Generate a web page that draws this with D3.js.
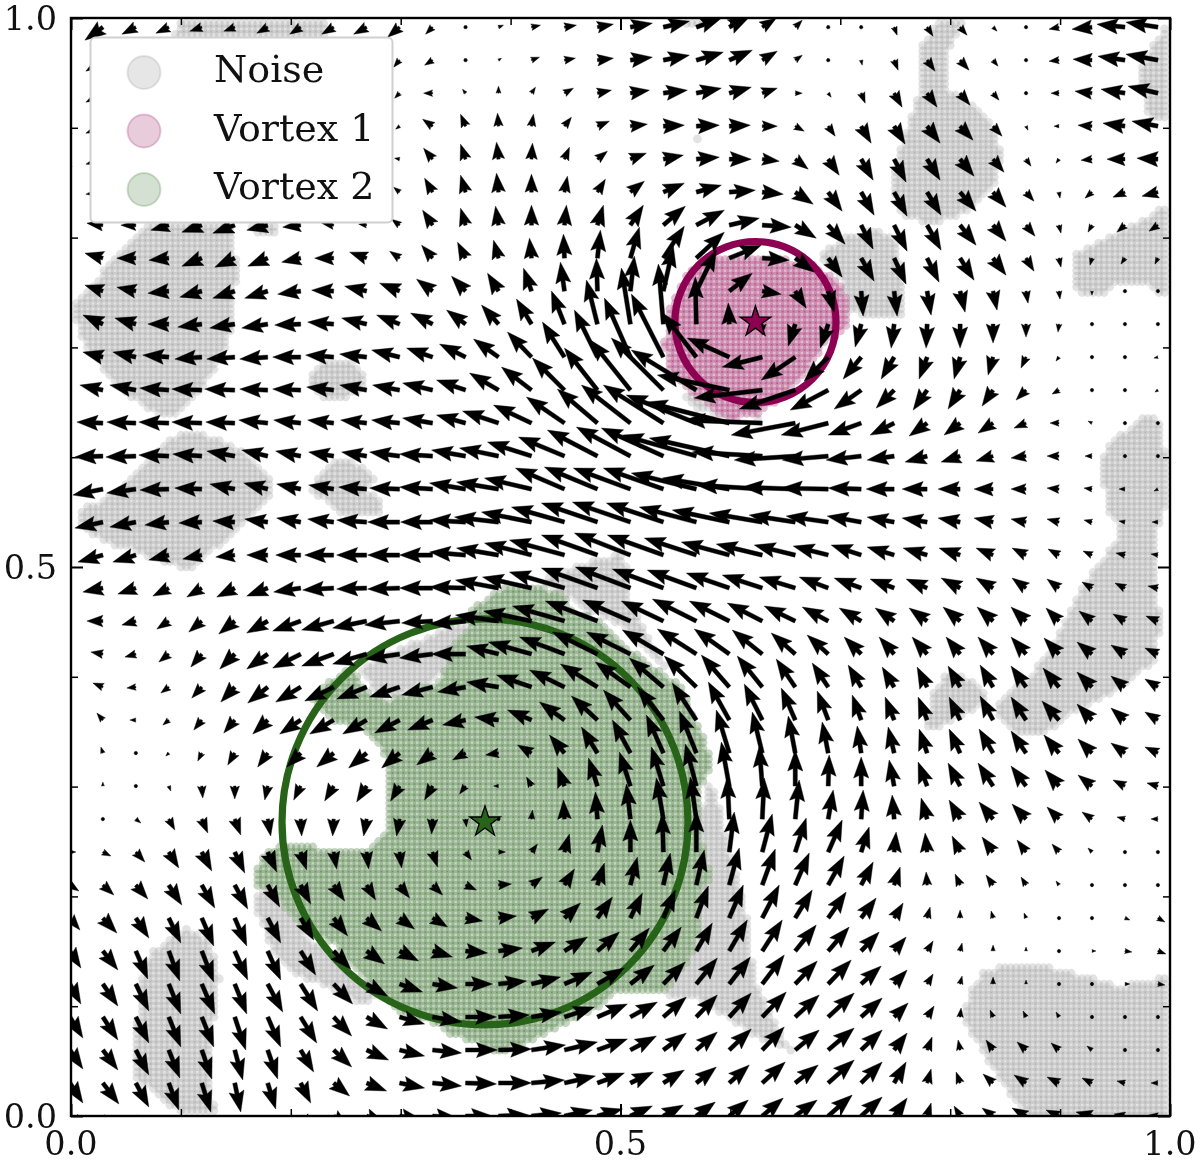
<!DOCTYPE html>
<html><head><meta charset="utf-8">
<script src="https://cdnjs.cloudflare.com/ajax/libs/d3/7.8.5/d3.min.js"></script>
<style>html,body{margin:0;background:#fff}svg{display:block;filter:blur(0.45px)}text{font-family:"DejaVu Serif";fill:#111}</style>
</head><body><svg id="c" width="1200" height="1162"></svg>
<script>
// quiver field, rows from top (y≈0.99) to bottom (y=0), 34 columns
const uRows = [
[-20,-18,-14,-13,-12,-11,-11,-11,-12,-13,-12,-7,0,5,9,12,16,22,26,25,20,14,7,0,0,3,6,7,4,0,-10,-20,-28,-32],
[-20,-17,-15,-13,-12,-11,-10,-10,-10,-9,-6,-8,0,3,8,11,16,22,26,27,23,15,7,0,1,4,8,9,5,0,-10,-19,-27,-32],
[-20,-17,-15,-14,-13,-12,-11,-10,-9,-8,-5,-9,-3,0,4,9,14,19,24,25,22,15,7,3,4,8,10,10,6,0,-8,-17,-24,-30],
[-20,-17,-16,-15,-15,-14,-12,-10,-9,-7,-4,-10,-5,-1,2,7,12,17,21,23,21,15,9,7,10,11,13,13,9,2,-5,-14,-22,-26],
[-20,-17,-17,-16,-16,-15,-13,-10,-8,-6,-5,-9,-5,-2,1,5,10,16,20,23,22,17,13,11,12,12,13,14,11,5,-3,-11,-18,-21],
[-20,-17,-17,-17,-18,-18,-15,-12,-9,-7,-6,-8,-5,-2,0,3,8,14,21,25,26,21,18,14,13,13,14,16,13,8,1,-7,-12,-16],
[-18,-16,-15,-18,-20,-22,-21,-18,-12,-8,-8,-10,-5,-3,0,2,6,13,22,28,30,29,21,17,12,13,14,16,13,9,2,-4,-8,-9],
[-18,-18,-19,-20,-20,-20,-20,-19,-19,-17,-10,-11,-8,-5,-2,-1,3,9,21,28,32,27,19,14,13,12,12,14,13,8,2,-2,-4,-3],
[-17,-18,-19,-21,-22,-22,-23,-23,-22,-22,-20,-16,-14,-11,-8,-4,-1,4,10,20,23,19,11,6,2,3,4,5,4,2,1,0,0,0],
[-18,-20,-21,-21,-24,-25,-26,-26,-26,-25,-23,-22,-19,-17,-15,-13,-11,-9,-5,-1,-1,0,-7,-8,-6,-3,-1,0,0,0,-1,0,0,3],
[-20,-20,-23,-26,-27,-28,-28,-28,-28,-27,-28,-26,-26,-25,-24,-22,-23,-26,-32,-34,-42,-40,-34,-24,-18,-13,-8,-6,-5,-5,-3,0,0,-4],
[-25,-23,-26,-29,-30,-30,-28,-28,-27,-27,-27,-30,-29,-29,-30,-32,-33,-40,-52,-65,-72,-68,-56,-38,-27,-18,-14,-12,-11,-10,-7,0,0,-3],
[-25,-26,-29,-30,-30,-29,-29,-27,-26,-26,-28,-30,-29,-36,-38,-38,-40,-49,-60,-70,-83,-78,-64,-47,-33,-24,-18,-16,-15,-12,-9,-4,0,0],
[-25,-28,-30,-30,-29,-28,-26,-25,-25,-25,-30,-33,-34,-39,-44,-46,-50,-54,-62,-74,-80,-70,-61,-46,-35,-27,-22,-19,-17,-15,-12,-7,-2,0],
[-28,-30,-29,-29,-27,-25,-24,-24,-25,-28,-30,-33,-36,-42,-47,-49,-53,-57,-60,-65,-67,-66,-53,-47,-33,-28,-25,-22,-19,-15,-12,-8,-6,-4],
[-25,-28,-26,-24,-23,-22,-23,-24,-26,-30,-32,-32,-36,-44,-50,-53,-56,-58,-57,-57,-57,-53,-46,-42,-34,-27,-25,-22,-19,-15,-12,-8,-6,-6],
[-22,-25,-23,-20,-19,-19,-21,-25,-29,-30,-32,-33,-36,-42,-47,-55,-56,-56,-56,-52,-48,-46,-41,-35,-30,-27,-24,-21,-17,-14,-11,-9,-9,-7],
[-18,-20,-18,-16,-15,-18,-21,-27,-31,-30,-32,-33,-36,-43,-49,-55,-56,-55,-51,-49,-43,-40,-36,-29,-27,-24,-21,-19,-17,-14,-12,-10,-10,-10],
[-14,-16,-14,-12,-13,-16,-21,-28,-32,-34,-35,-31,-35,-43,-48,-52,-52,-48,-42,-44,-40,-35,-31,-26,-22,-19,-18,-17,-16,-15,-13,-13,-12,-12],
[-10,-12,-11,-10,-11,-15,-21,-28,-32,-34,-34,-33,-34,-32,-43,-45,-45,-44,-41,-39,-35,-30,-24,-21,-17,-15,-15,-14,-15,-15,-15,-15,-14,-13],
[-8,-10,-9,-8,-10,-14,-20,-25,-29,-30,-30,-31,-28,-32,-35,-35,-37,-35,-34,-32,-28,-25,-19,-16,-13,-12,-10,-12,-13,-15,-16,-15,-14,-13],
[-4,-6,-6,-6,-8,-11,-15,-21,-24,-24,-25,-25,-23,-24,-24,-25,-26,-27,-26,-24,-21,-18,-14,-11,-9,-9,-9,-11,-13,-15,-17,-15,-14,-13],
[-1,-2,0,-3,-4,-7,-10,-14,-17,-18,-18,-16,-13,-13,-14,-15,-16,-18,-17,-17,-13,-10,-7,-6,-4,-6,-8,-11,-14,-15,-15,-14,-14,-13],
[-1,0,0,2,1,0,-3,-7,-9,-10,-9,-8,-6,-5,-5,-7,-9,-11,-12,-11,-8,-3,0,1,0,-5,-9,-12,-15,-15,-14,-14,-12,-11],
[2,3,5,6,6,6,3,1,-1,-3,-3,-1,1,2,1,-1,-2,-4,-7,-6,-2,2,4,5,2,-2,-6,-11,-14,-14,-12,-10,-8,-7],
[6,8,9,10,10,10,9,6,3,2,2,5,6,7,6,5,5,0,-1,0,5,10,11,14,8,2,-2,-8,-11,-9,-7,-4,0,0],
[9,11,12,13,13,13,12,10,11,9,10,10,11,13,11,10,7,7,7,8,10,13,14,16,12,6,-1,-5,-7,-5,-3,0,0,0],
[10,14,13,12,12,12,13,13,14,15,15,15,17,18,17,16,15,12,12,12,14,17,17,18,15,9,3,0,-2,-2,0,0,5,7],
[11,15,12,11,12,13,13,15,17,18,19,20,22,24,24,23,22,19,18,16,18,20,21,21,18,12,6,2,0,0,0,4,7,8],
[11,15,13,12,13,12,15,17,19,21,23,25,27,28,29,28,27,24,22,21,21,22,22,23,20,13,6,2,0,0,0,0,5,7],
[13,15,13,12,12,11,13,16,18,21,25,29,31,31,30,30,30,27,23,21,22,24,24,26,21,14,7,1,-3,-3,-3,0,0,0],
[13,15,13,11,10,8,10,13,18,22,25,29,32,33,34,33,30,26,23,21,22,22,24,26,21,13,5,-2,-7,-9,-8,-5,-2,0],
[13,16,13,10,9,6,8,10,16,20,25,29,31,33,33,31,27,23,21,20,20,23,23,26,21,12,4,-4,-10,-12,-12,-10,-8,-7],
[13,16,13,9,8,5,7,9,15,19,23,25,27,30,30,28,25,22,20,19,19,21,22,24,21,13,4,-6,-11,-14,-13,-16,-11,-9]
];
const vRows = [
[-13,-13,-7,-6,-4,-4,-6,-7,-7,-7,-10,-7,0,2,2,2,3,4,6,9,10,9,7,0,0,-8,-9,-8,-4,0,-2,-2,3,5],
[-12,-11,-9,-7,-6,-6,-6,-6,-6,-6,-7,-5,0,2,3,2,2,3,5,8,10,9,5,0,-5,-10,-11,-10,-6,0,-1,1,4,6],
[-10,-9,-8,-7,-7,-7,-6,-5,-5,-5,-5,0,4,7,6,5,3,3,3,5,6,5,0,-4,-10,-14,-14,-12,-7,0,0,2,4,7],
[-8,-7,-7,-7,-7,-7,-6,-4,-3,-3,-3,7,12,13,12,9,5,2,1,1,1,0,-5,-10,-17,-18,-17,-14,-10,-4,0,1,3,5],
[-6,-5,-6,-6,-7,-7,-5,-3,-1,0,1,11,15,17,16,12,8,6,4,2,0,-2,-10,-16,-21,-23,-21,-17,-13,-7,-4,-1,0,1],
[-3,-2,-4,-6,-7,-7,-5,-2,0,2,5,14,17,19,18,16,13,11,9,7,2,-2,-12,-19,-23,-24,-23,-19,-15,-9,-6,-6,-5,-4],
[2,2,0,-5,-7,-8,-5,-2,2,1,6,15,17,19,20,20,20,20,19,15,7,-2,-13,-19,-24,-26,-25,-20,-16,-11,-8,-7,-7,-6],
[5,5,0,-2,-8,-9,-8,-4,0,6,7,13,16,18,20,24,28,31,32,26,13,-2,-14,-19,-23,-26,-24,-22,-17,-13,-9,-7,-6,-6],
[5,6,4,-2,-6,-7,-7,-3,1,5,8,12,15,18,23,29,33,35,45,41,18,-3,-17,-21,-25,-25,-24,-21,-19,-12,-8,-4,-3,-3],
[6,9,6,0,-3,-4,-4,-1,2,6,9,11,14,19,25,33,44,56,60,47,21,-11,-22,-24,-23,-24,-24,-24,-19,-13,-8,0,0,-1],
[4,5,5,2,-2,-2,-2,0,2,3,7,9,13,18,25,35,47,59,63,44,19,-10,-23,-24,-22,-22,-22,-22,-18,-11,-4,0,0,-1],
[4,5,5,2,1,1,1,1,3,5,5,7,10,17,23,32,42,50,52,40,15,-8,-19,-20,-19,-18,-20,-19,-16,-10,-4,0,0,-2],
[1,1,1,1,1,1,3,3,3,3,3,5,8,12,18,26,34,38,38,28,21,3,-12,-12,-12,-12,-13,-12,-10,-5,0,2,0,0],
[0,-1,-1,1,2,5,6,5,4,4,4,2,6,8,14,19,26,29,28,21,18,4,-4,-4,-4,-4,-6,-6,-5,-2,0,0,0,0],
[-8,-6,-4,-1,1,5,6,5,4,2,1,2,6,7,11,21,22,21,21,16,11,4,2,1,1,0,0,0,0,0,1,1,0,-2],
[-7,-6,-5,-3,-1,1,3,4,3,2,0,0,2,5,10,15,19,20,19,15,12,9,7,6,6,5,4,4,4,3,3,2,1,0],
[-8,-7,-7,-5,-4,-2,0,0,0,0,0,0,3,7,12,15,20,22,20,17,13,11,10,9,10,8,7,7,7,7,6,4,2,1],
[-3,-4,-6,-8,-9,-9,-8,-4,-2,-1,-1,0,1,8,11,16,20,21,19,18,15,13,11,11,10,9,9,10,10,10,9,6,5,2],
[0,0,-4,-8,-11,-13,-12,-10,-9,-7,-4,-2,-3,6,10,15,20,21,20,22,20,18,15,14,13,13,13,14,14,14,13,10,7,5],
[2,2,-3,-8,-13,-15,-15,-14,-12,-10,-5,-4,0,8,12,17,22,22,24,25,25,24,21,19,17,17,17,17,17,17,16,12,9,6],
[3,4,-1,-6,-11,-15,-16,-15,-14,-12,-10,-8,-5,5,12,17,23,25,29,31,32,31,28,24,22,20,20,21,22,21,19,15,11,8],
[6,7,0,-5,-10,-13,-14,-14,-14,-14,-13,-10,-5,3,10,18,24,30,33,37,38,36,32,29,25,23,23,23,24,23,19,16,12,8],
[5,6,0,-3,-8,-12,-14,-14,-14,-15,-15,-12,-7,-2,8,18,26,33,38,42,43,41,37,31,27,26,24,24,24,22,18,14,10,6],
[3,4,0,-5,-12,-13,-14,-14,-15,-16,-15,-14,-8,0,9,19,28,34,39,42,44,40,36,31,29,26,24,23,23,20,16,11,6,3],
[2,1,-4,-11,-14,-16,-17,-17,-17,-17,-17,-15,-8,0,9,19,27,35,41,42,42,41,39,29,29,24,21,19,17,15,12,7,2,0],
[0,-4,-10,-16,-19,-21,-20,-18,-17,-17,-16,-15,-8,0,8,18,27,32,39,41,40,38,34,32,25,20,19,16,15,12,8,4,0,0],
[-6,-10,-14,-20,-23,-24,-22,-19,-16,-15,-13,-10,-5,1,8,16,22,28,32,35,37,36,32,29,23,18,13,11,10,8,4,0,0,0],
[-12,-15,-20,-25,-28,-28,-25,-22,-18,-13,-11,-9,-3,2,9,15,21,25,28,32,33,33,28,26,20,15,11,8,7,5,0,0,-2,-4],
[-17,-19,-28,-30,-31,-29,-29,-24,-18,-13,-10,-6,-2,3,9,14,19,23,24,28,31,31,26,24,19,14,10,8,6,4,0,0,-1,-3],
[-20,-22,-27,-30,-30,-30,-28,-27,-20,-12,-8,-4,0,3,7,12,16,19,22,26,27,29,23,24,18,14,10,8,7,4,2,0,0,-1],
[-21,-23,-26,-30,-30,-33,-30,-26,-19,-12,-7,-5,0,2,5,10,13,15,20,22,24,25,22,24,19,14,11,9,7,6,5,0,0,0],
[-19,-20,-25,-28,-29,-30,-29,-22,-17,-10,-6,-3,0,1,5,8,11,14,17,18,21,23,20,22,20,17,13,10,10,8,7,4,2,0],
[-20,-21,-24,-27,-29,-29,-26,-20,-13,-8,-5,-3,-1,0,3,7,10,11,13,16,18,21,18,23,21,21,14,11,9,8,6,5,2,0],
[-20,-21,-24,-27,-29,-29,-26,-20,-11,-7,-4,-2,0,1,3,6,7,10,11,14,16,18,16,21,19,18,13,10,8,8,6,4,2,1]
];
const seriesNames = ["Noise","Vortex 1","Vortex 2"];
const seriesColors = ["#808080","#8e0152","#276419"];
const seriesAlpha = [0.22,0.26,0.27];
const vortexCenters = [[0.6228,0.7231],[0.3767,0.2678]];
const vortexRadii = [0.0733,0.1847];
const majorTicks = [0,0.5,1];
const minorTicks = [0.1,0.2,0.3,0.4,0.6,0.7,0.8,0.9];
// cluster outlines, thousandths of the axis range
const noiseOutlines = [
[[93,982],[97,996],[154,998],[234,996],[234,980]],
[[69,813],[149,813],[149,784],[154,771],[152,763],[147,752],[147,725],[143,702],[131,680],[122,666],[108,652],[95,639],[81,639],[63,648],[40,666],[26,684],[13,702],[4,725],[2,743],[13,748],[26,762],[31,775],[45,789],[58,803]],
[[160,813],[187,813],[187,804],[167,803]],
[[217,670],[225,684],[243,689],[261,684],[268,670],[265,660],[249,654],[231,654],[219,661]],
[[92,618],[111,623],[133,616],[154,607],[181,579],[183,564],[160,540],[147,527],[124,513],[111,497],[81,505],[56,516],[29,522],[8,540],[6,552],[29,561],[54,579],[70,598]],
[[249,600],[272,589],[278,579],[270,570],[284,561],[281,549],[248,548],[233,558],[217,570],[229,589]],
[[106,172],[129,158],[131,133],[138,127],[131,118],[131,90],[125,81],[126,45],[128,17],[133,3],[99,3],[81,17],[58,35],[56,72],[63,97],[63,124],[72,148],[90,163]],
[[788,999],[812,997],[804,979],[798,968],[798,935],[818,923],[836,907],[848,877],[839,846],[818,823],[788,814],[757,816],[747,844],[752,877],[759,892],[768,923],[775,935],[773,971],[779,983]],
[[997,994],[1000,905],[988,906],[976,919],[973,953],[984,977]],
[[734,807],[752,798],[757,764],[757,730],[724,728],[709,732],[700,764],[679,782],[691,792],[707,803]],
[[994,828],[1000,825],[1000,746],[988,746],[985,755],[955,759],[936,746],[923,748],[912,755],[912,784],[927,792],[945,801],[976,816]],
[[979,639],[989,636],[994,609],[1000,595],[997,558],[986,527],[985,488],[993,449],[985,413],[948,385],[906,363],[882,345],[857,349],[843,367],[841,376],[875,404],[897,434],[915,473],[936,504],[950,522],[952,543],[945,549],[944,568],[938,577],[938,595],[945,613],[961,625]],
[[794,402],[812,400],[824,394],[834,385],[827,374],[806,361],[791,353],[777,353],[780,367],[784,384]],
[[845,136],[891,136],[927,127],[952,118],[982,124],[1000,127],[1000,0],[870,0],[852,24],[834,51],[818,76],[812,94],[818,115],[830,130]],
[[579,303],[588,297],[593,263],[606,218],[615,181],[621,136],[627,112],[642,81],[657,57],[648,63],[630,69],[600,87],[570,106],[542,110],[554,145],[563,181],[572,212],[568,251]],
[[167,203],[178,209],[197,190],[215,163],[238,145],[257,127],[281,121],[281,108],[263,103],[233,118],[202,130],[178,158],[174,176],[167,185]],
[[457,500],[479,508],[502,511],[509,497],[509,470],[521,445],[539,413],[547,400],[527,418],[509,440],[490,452],[472,458],[454,473],[445,476],[427,488],[448,495]],
[[263,406],[286,420],[318,434],[345,447],[363,447],[345,425],[340,406],[331,397],[308,388],[286,379],[272,393]],
[[551,666],[572,652],[604,634],[627,634],[636,641],[613,630],[591,636],[568,645]],
[[567,887],[573,887],[573,893],[567,893]],
[[558,993],[578,993],[578,998],[558,998]]
];
const vortex1Outline = [[627,783],[675,777],[703,755],[709,734],[704,716],[684,701],[675,686],[670,677],[648,655],[627,640],[602,634],[584,643],[570,655],[545,680],[539,701],[545,737],[561,768],[584,780],[609,782]];
const vortex2Outline = [[363,461],[379,472],[399,482],[427,482],[448,476],[456,461],[479,452],[497,436],[518,418],[539,404],[557,391],[566,367],[577,345],[583,324],[579,306],[570,294],[575,249],[583,215],[570,206],[572,172],[566,148],[542,115],[497,112],[479,99],[454,85],[427,72],[393,57],[366,67],[342,76],[327,85],[299,94],[278,115],[257,133],[242,154],[215,169],[197,185],[187,206],[169,209],[167,224],[181,244],[202,247],[233,244],[248,240],[275,245],[288,258],[288,324],[272,349],[240,359],[217,379],[236,397],[257,409],[268,388],[286,377],[308,386],[336,397],[345,425],[363,447]];

const L=71,R=1170,T=18,B=1116;
const x=d3.scaleLinear().domain([0,1]).range([L,R]);
const y=d3.scaleLinear().domain([0,1]).range([B,T]);
const svg=d3.select("#c");
svg.append("defs").append("clipPath").attr("id","ax").append("rect").attr("x",L).attr("y",T).attr("width",R-L).attr("height",B-T);
const plot=svg.append("g").attr("clip-path","url(#ax)");

// dense sample lattice coloured by cluster outline
const lattice=[];
const latticeIdx=d3.range(0,201);
for(const a of latticeIdx)for(const b of latticeIdx){
  const p=[a*5,b*5];let s=-1;
  if(d3.polygonContains(vortex1Outline,p))s=1;
  else if(d3.polygonContains(vortex2Outline,p))s=2;
  else if(noiseOutlines.some(o=>d3.polygonContains(o,p)))s=0;
  if(s>=0)lattice.push({x:p[0]/1000,y:p[1]/1000,s});
}
lattice.sort((p,q)=>p.s-q.s);
plot.append("g").selectAll("circle").data(lattice).join("circle")
 .attr("cx",d=>x(d.x)).attr("cy",d=>y(d.y)).attr("r",4.4)
 .attr("fill",d=>seriesColors[d.s]).attr("fill-opacity",d=>seriesAlpha[d.s]);

// vortex circles
plot.append("g").selectAll("circle").data(vortexCenters).join("circle")
 .attr("cx",d=>x(d[0])).attr("cy",d=>y(d[1]))
 .attr("r",(d,i)=>x(vortexRadii[i])-x(0))
 .attr("fill","none").attr("stroke",(d,i)=>seriesColors[i+1]).attr("stroke-width",7.2);

// quiver
const sw=2.1,hw=7.6,hl=21,ha=18.5,minL=3.6;
function arrowPath(a){
  const len=Math.hypot(a.u,a.v);
  const bx=a.u/(len||1),by=-a.v/(len||1);
  const pt=(s,t)=>[s*bx-t*by,s*by+t*bx];
  let pts;
  if(len<minL){
    pts=d3.range(6).map(k=>[1.9*Math.cos(k*Math.PI/3),1.9*Math.sin(k*Math.PI/3)]);
  }else{
    const k=Math.min(1,len/hl);
    const w=sw*k,W=hw*k,H=hl*k,A=ha*k;
    pts=[[0,w],[len-A,w],[len-H,W],[len,0],[len-H,-W],[len-A,-w],[0,-w]].map(p=>pt(p[0],p[1]));
  }
  return "M"+pts.map(p=>p[0].toFixed(2)+","+p[1].toFixed(2)).join("L")+"Z";
}
const arrows=[];
uRows.forEach((row,r)=>row.forEach((u,c)=>{
  arrows.push({gx:c*0.03-0.001,gy:(33-r)*0.03005,u,v:vRows[r][c]});
}));
plot.append("g").selectAll("path").data(arrows).join("path")
 .attr("transform",d=>`translate(${x(d.gx)},${y(d.gy)})`)
 .attr("d",arrowPath).attr("fill","#000").attr("stroke","#000").attr("stroke-width",0.4);

// centre stars
plot.append("g").selectAll("path").data(vortexCenters).join("path")
 .attr("transform",d=>`translate(${x(d[0])},${y(d[1])})`)
 .attr("d",d3.symbol(d3.symbolStar,290))
 .attr("fill",(d,i)=>seriesColors[i+1]).attr("stroke","#000").attr("stroke-width",1.3);

// axes
function ticks(gen,vals,size,width,fmt){
  const g=svg.append("g").call(gen.tickValues(vals).tickSize(size).tickSizeOuter(0).tickFormat(fmt||""));
  g.select(".domain").remove();
  g.selectAll("line").attr("stroke","#000").attr("stroke-width",width);
  return g;
}
const fmt=d3.format(".1f");
[[d3.axisTop(x),`translate(0,${B})`],[d3.axisBottom(x),`translate(0,${T})`],[d3.axisRight(y),`translate(${L},0)`],[d3.axisLeft(y),`translate(${R},0)`]].forEach(([gen,tr])=>{
  ticks(gen,minorTicks,7,1.5).attr("transform",tr);
  ticks(gen,majorTicks,12,2).attr("transform",tr);
});
svg.append("rect").attr("x",L).attr("y",T).attr("width",R-L).attr("height",B-T).attr("fill","none").attr("stroke","#000").attr("stroke-width",2.4);
svg.append("g").selectAll("text").data(majorTicks).join("text").attr("x",x).attr("y",1155)
  .attr("text-anchor","middle").attr("font-size",33.5).text(fmt);
svg.append("g").selectAll("text").data(majorTicks).join("text").attr("x",57).attr("y",d=>y(d)+12)
  .attr("text-anchor","end").attr("font-size",33.5).text(fmt);

// legend
const lg=svg.append("g");
lg.append("rect").attr("x",90.5).attr("y",37.5).attr("width",302).attr("height",185).attr("rx",5)
 .attr("fill","#fff").attr("stroke","#d0d0d0").attr("stroke-width",2);
const legendRows=lg.selectAll("g").data(seriesNames).join("g")
 .attr("transform",(d,i)=>`translate(0,${72.5+i*58.5})`);
legendRows.append("circle").attr("cx",144).attr("r",16.5)
 .attr("fill",(d,i)=>seriesColors[i]).attr("fill-opacity",0.2)
 .attr("stroke",(d,i)=>seriesColors[i]).attr("stroke-opacity",0.2).attr("stroke-width",2);
legendRows.append("text").attr("x",214).attr("y",9.5).attr("font-size",38).text(d=>d);
</script></body></html>
